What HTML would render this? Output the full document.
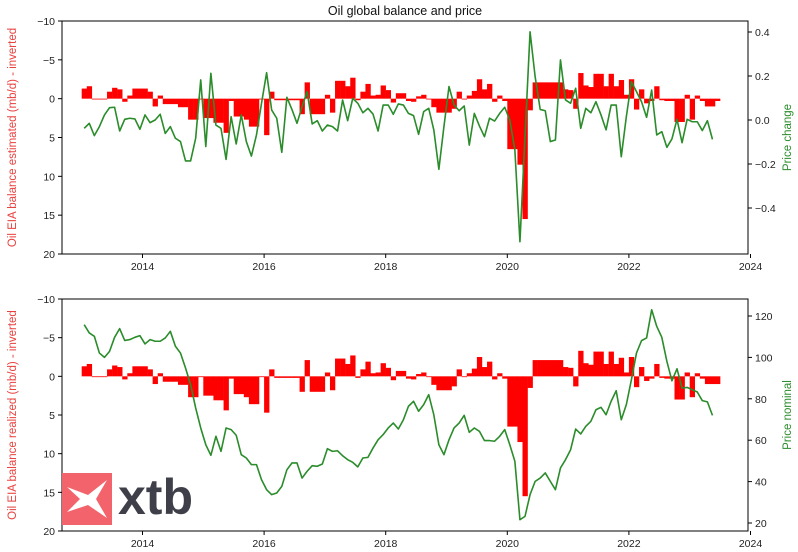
<!DOCTYPE html>
<html><head><meta charset="utf-8"><style>
html,body{margin:0;padding:0;background:#fff;}
svg{display:block;font-family:"Liberation Sans",sans-serif;}
</style></head><body>
<svg id="c" width="798" height="552" viewBox="0 0 798 552"></svg>
<script>
const balanceEstimated=[-1.3,-1.6,0,0.1,0,-0.9,-1.4,-1.2,0.4,-0.4,-1.3,-1.3,-1.3,-0.9,1.0,-0.4,0.7,0.7,0.7,1.1,1.1,2.7,2.7,0.1,2.5,2.5,3.1,3.1,4.4,0.3,2.3,2.3,2.7,3.6,3.6,0,4.7,-0.9,0.2,0.2,0.2,0.2,0.2,2,-2.1,2,2,2,-0.5,1.8,-2.3,-2.3,-1.6,-2.7,0.2,-0.9,-1.9,-0.4,-0.5,-1.7,-1.1,0.5,-0.7,-0.7,0.3,
0.4,-0.3,-0.5,0,1.1,1.8,1.8,1.8,1.3,-0.9,0.1,-0.4,-1,-2.5,-1.2,-1.9,0.4,-0.4,0.3,6.5,6.5,8.5,15.5,1.5,-2.1,-2.1,-2.1,-2.1,-2.1,-2.1,-1.2,-1.1,1.3,-3.3,-1.7,-1.5,-3.2,-3.2,-1.6,-3.2,-1.6,-2.4,-0.5,-2.5,1.4,-1.2,0.6,0.3,-1.6,0.2,0.3,0.3,3,3,-0.5,2.7,-0.4,0.3,1,1,0.3];
const balanceRealized=[-1.3,-1.6,0,0.1,0,-0.9,-1.4,-1.2,0.4,-0.4,-1.3,-1.3,-1.3,-0.9,1.0,-0.4,0.7,0.7,0.7,1.1,1.1,2.7,2.7,0.1,2.5,2.5,3.1,3.1,4.4,0.3,2.3,2.3,2.7,3.6,3.6,0,4.7,-0.9,0.2,0.2,0.2,0.2,0.2,2,-2.1,2,2,2,-0.5,1.8,-2.3,-2.3,-1.6,-2.7,0.2,-0.9,-1.9,-0.4,-0.5,-1.7,-1.1,0.5,-0.7,-0.7,0.3,
0.4,-0.3,-0.5,0,1.1,1.8,1.8,1.8,1.3,-0.9,0.1,-0.4,-1,-2.5,-1.2,-1.9,0.4,-0.4,0.3,6.5,6.5,8.5,15.5,1.5,-2.1,-2.1,-2.1,-2.1,-2.1,-2.1,-1.2,-1.1,1.3,-3.3,-1.7,-1.5,-3.2,-3.2,-1.6,-3.2,-1.6,-2.4,-0.5,-2.5,1.4,-1.2,0.6,0.3,-1.6,0.2,0.3,0.3,3,3,-0.5,2.7,-0.4,0.3,1,1,1];
const priceChange=[-0.038,-0.015,-0.071,-0.03,0.023,0.056,0.058,-0.05,0.003,0.008,0.005,-0.042,0.023,-0.012,0,0.026,-0.061,-0.03,-0.083,-0.098,-0.186,-0.186,-0.083,0.182,-0.121,0.212,-0.023,-0.038,-0.179,0.015,-0.109,0.023,-0.098,-0.164,-0.068,0.076,0.215,0.045,0.008,-0.147,0.103,0.048,-0.015,0.061,0.129,-0.018,-0.003,-0.05,-0.023,-0.03,-0.05,0.091,-0.003,0.098,0.076,0.033,0.053,0.027,-0.05,0.068,0.068,0.026,
0.073,0.068,0.03,0.02,-0.065,0.038,0.053,-0.045,-0.224,-0.03,0.152,0.068,0.042,0.064,-0.114,0.03,-0.027,-0.076,0.008,-0.005,0.03,0.058,0,-0.136,-0.553,-0.076,0.401,0.197,0.048,0.042,-0.098,-0.091,0.273,0.091,0.076,0.144,-0.038,0.053,0.033,0.083,0.023,-0.045,0.068,0.068,-0.167,0.015,0.174,0.129,0.083,0.012,0.136,-0.068,-0.053,-0.124,-0.086,0.003,-0.103,0.003,-0.008,-0.008,-0.048,-0.003,-0.088];
const priceNominal=[115.8,111.8,110.2,102.1,100,102.9,109.7,113.9,108.2,108.6,109.7,110.5,106.5,108.6,107.8,107.8,109.4,112.6,105.4,102.1,94.9,86.8,75.6,65.9,57.8,52.7,61.9,54.6,65.9,65.1,62.4,53,51.4,48.2,48.2,40.9,36.1,33.7,34.5,37.7,45.7,49,49,41.7,45,47.7,47.4,48.5,55.9,54.6,54.9,52.5,50.6,49.3,47.1,51.4,51.7,56.2,60.2,62.7,65.9,68.3,65.4,69.9,
76.4,78.8,74,77.2,82,72.3,57.8,53,60.2,65.9,68.3,72,63.8,65.9,64.3,59.8,59.8,59.5,61.9,65.1,57.8,49.8,21.6,23.2,33.7,40.1,41.7,44.2,40.1,36.1,46.6,50.6,55.4,65.4,63,66.7,69.1,74.7,75.9,72.3,78.8,83.9,69.9,77.2,89.2,102.1,108.1,109.4,123,115,109.7,98.1,88.7,94.5,85.2,85.5,84.4,83.3,79.1,78.5,72];
const startYear=2013;
const xTicks=[2014,2016,2018,2020,2022,2024];
const leftTicks=[-10,-5,0,5,10,15,20];
const changeTicks=[0.4,0.2,0.0,-0.2,-0.4];
const nominalTicks=[120,100,80,60,40,20];

const NS="http://www.w3.org/2000/svg";
const svg=document.getElementById('c');
function el(tag,attrs,parent,text){const e=document.createElementNS(NS,tag);for(const k in attrs)e.setAttribute(k,attrs[k]);if(text!==undefined)e.textContent=text;(parent||svg).appendChild(e);return e;}
const X0=62,X1=748;
function xYear(t){return 142.5+(t-2014)*60.8;}
function xMonth(m){return xYear(startYear+m/12);}
function fmt(v){return (v<0?'\u2212':'')+Math.abs(v);}

function panel(cfg){
  const g=el('g',{});
  
  
  const top=cfg.top,bot=cfg.bot;
  const yL=v=>top+(v-(-10))/30*(bot-top);
  const yR=v=>top+(cfg.rMax-v)/(cfg.rMax-cfg.rMin)*(bot-top);
  const bg=el('g',{},g);
  
  
  const y0=yL(0);
  cfg.bars.forEach((v,i)=>{
    const y=yL(v);
    const r=el('rect',{x:xMonth(i).toFixed(2),y:Math.min(y,y0).toFixed(2),width:5.3,height:Math.max(Math.abs(y-y0),0.8).toFixed(2),fill:'#ff0000'},bg);
    
    
  });
  let d='';
  cfg.line.forEach((v,i)=>{if(v===null)return;const x=xMonth(i)+2.5,y=yR(v);d+=(d?'L':'M')+x.toFixed(2)+','+y.toFixed(2);});
  const p=el('path',{d:d,fill:'none',stroke:'#2a8c2a','stroke-width':1.6,'stroke-linejoin':'round'},g);
  
  
  const f=el('rect',{x:X0,y:top,width:X1-X0,height:bot-top,fill:'none',stroke:'#000','stroke-width':1},g);
  
  
  xTicks.forEach(t=>{const x=xYear(t);el('line',{x1:x,y1:bot,x2:x,y2:bot+4,stroke:'#000'},g);
    const tx=el('text',{x:x,y:bot+16,'font-size':10.5,'text-anchor':'middle',fill:'#222'},g,String(t));
    
    });
  leftTicks.forEach(v=>{const y=yL(v);el('line',{x1:X0-4,y1:y,x2:X0,y2:y,stroke:'#000'},g);
    const tx=el('text',{x:X0-7,y:y+4,'font-size':10.5,'text-anchor':'end',fill:'#222'},g,fmt(v));
    
    });
  cfg.rTicks.forEach(v=>{const y=yR(v);el('line',{x1:X1,y1:y,x2:X1+4,y2:y,stroke:'#000'},g);
    const tx=el('text',{x:X1+7,y:y+4,'font-size':10.5,'text-anchor':'start',fill:'#222'},g,cfg.rFmt(v));
    
    });
  const cy=(top+bot)/2;
  const lt=el('text',{x:0,y:0,'font-size':11.5,'text-anchor':'middle',fill:'#e8423f',transform:`translate(16,${cy}) rotate(-90)`},g,cfg.lTitle);
  
  
  const rt=el('text',{x:0,y:0,'font-size':11.5,'text-anchor':'middle',fill:'#2a8c2a',transform:`translate(791,${cy}) rotate(-90)`},g,cfg.rTitle);
  
  
}
const title=el('text',{x:405,y:15,'font-size':12.5,'text-anchor':'middle',fill:'#111'},svg,'Oil global balance and price');



panel({name:'estimated-panel',barName:'estimated-balance-bars',lineName:'price-change-line',top:21,bot:254,bars:balanceEstimated,line:priceChange,
  rMax:(120-21)/220,rMin:-(254-120)/220,rTicks:changeTicks,rFmt:v=>(v<0?'\u2212':'')+Math.abs(v).toFixed(1),
  lTitle:'Oil EIA balance estimated (mb/d) - inverted',rTitle:'Price change'});
panel({name:'realized-panel',barName:'realized-balance-bars',lineName:'price-nominal-line',top:299,bot:531,bars:balanceRealized,line:priceNominal,
  rMax:120+17/2.07,rMin:120-215/2.07,rTicks:nominalTicks,rFmt:v=>String(v),
  lTitle:'Oil EIA balance realized (mb/d) - inverted',rTitle:'Price nominal'});

const lg=el('g',{});


el('rect',{x:62,y:473,width:50,height:52,fill:'#f2636b'},lg);
el('path',{d:'M67,487 L88,495 L107,480 L96,499 L107,518 L88,505 L67,512 L80,499 Z',fill:'#fff'},lg);
const lt=el('text',{x:118,y:514,'font-size':50,'font-weight':'bold',fill:'#3e3f48'},lg,'xtb');


</script>
</body></html>
